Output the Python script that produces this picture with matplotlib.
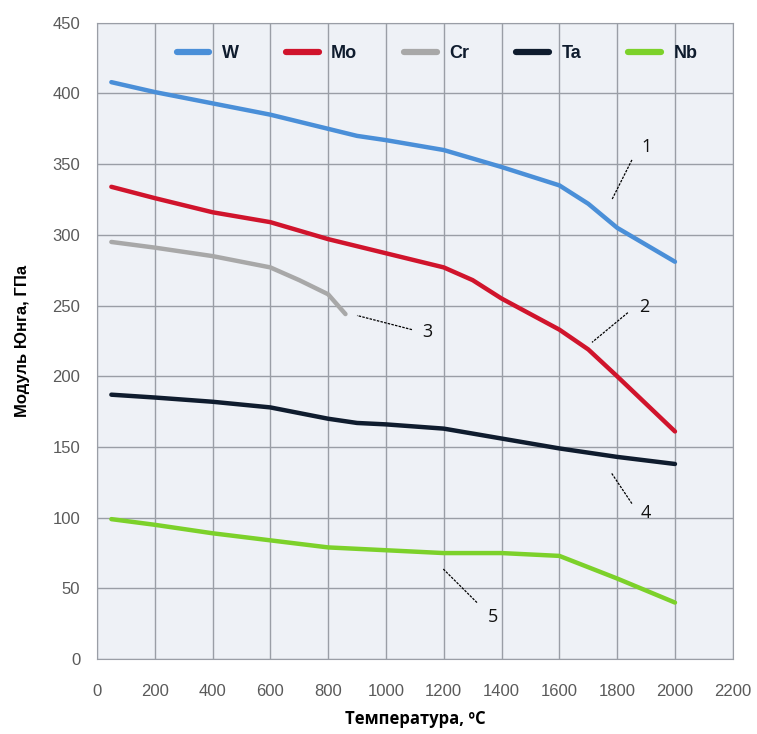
import numpy as np
import matplotlib
matplotlib.use("Agg")
import matplotlib.pyplot as plt

# temperatures, deg C
t_W = [50, 200, 400, 600, 800, 900, 1000, 1200, 1400, 1600, 1700, 1800, 2000]
E_W = [408, 401, 393, 385, 375, 370, 367, 360, 348, 335, 322, 305, 281]

t_Mo = [50, 200, 400, 600, 800, 1000, 1200, 1300, 1400, 1600, 1700, 1800, 2000]
E_Mo = [334, 326, 316, 309, 297, 287, 277, 268, 255, 233, 219, 200, 161]

t_Cr = [50, 200, 400, 600, 700, 800, 860]
E_Cr = [295, 291, 285, 277, 268, 258, 244]

t_Ta = [50, 200, 400, 600, 800, 900, 1000, 1200, 1400, 1600, 1800, 2000]
E_Ta = [187, 185, 182, 178, 170, 167, 166, 163, 156, 149, 143, 138]

t_Nb = [50, 200, 400, 600, 800, 1000, 1200, 1400, 1600, 1800, 2000]
E_Nb = [99, 95, 89, 84, 79, 77, 75, 75, 73, 57, 40]

names = ["W", "Mo", "Cr", "Ta", "Nb"]
colors = ["#4a8fd8", "#d0142c", "#a8a8a8", "#0f1c2e", "#7cd12a"]

# callout numbers: label, text position, leader start, leader end
labels = ["1", "2", "3", "4", "5"]
lab_xy = [(1900, 362), (1895, 249), (1145, 231), (1900, 103), (1370, 30)]
lead_a = [(1851, 353), (1837, 245), (1090, 233), (1851, 110), (1315, 40)]
lead_b = [(1782, 325), (1713, 224), (900, 243), (1779, 132), (1197, 64)]

fig = plt.figure(figsize=(7.57, 7.34), dpi=100)
ax = fig.add_axes([0.128, 0.102, 0.84, 0.867])
ax.set_facecolor("#eef1f6")

series = [(t_W, E_W), (t_Mo, E_Mo), (t_Cr, E_Cr), (t_Ta, E_Ta), (t_Nb, E_Nb)]
for (t, e), n, c in zip(series, names, colors):
    ax.plot(t, e, color=c, lw=3.2, label=n, solid_capstyle="round", solid_joinstyle="round")

for lb, xy, a, b in zip(labels, lab_xy, lead_a, lead_b):
    ax.plot([a[0], b[0]], [a[1], b[1]], color="black", lw=0.9, ls=(0, (2, 1)))
    ax.text(xy[0], xy[1], lb, fontsize=13, ha="center", va="center",
            family="Open Sans", color="#111111")

ax.set_xlim(0, 2200)
ax.set_ylim(0, 450)
ax.set_xticks(np.arange(0, 2201, 200))
ax.set_yticks(np.arange(0, 451, 50))
ax.grid(True, color="#9a9ea6", lw=1.0)
ax.set_axisbelow(True)
for s in ax.spines.values():
    s.set_color("#9a9ea6")
ax.tick_params(length=0, labelsize=12, colors="#5a5a5a")
ax.tick_params(axis="x", pad=18)
ax.tick_params(axis="y", pad=12)
for lbl in ax.get_xticklabels() + ax.get_yticklabels():
    lbl.set_family("Liberation Sans")

ax.set_xlabel("Температура, ºС", fontsize=12, fontweight="bold", family="Open Sans", labelpad=8)
ax.set_ylabel("Модуль Юнга, ГПа", fontsize=12, fontweight="bold", family="Liberation Sans", labelpad=16)

leg = ax.legend(loc="upper center", bbox_to_anchor=(0.535, 0.99), ncol=5, frameon=False,
                handlelength=1.8, columnspacing=2.6, handletextpad=0.7,
                prop={"family": "Liberation Sans", "weight": "bold", "size": 13})
for tx in leg.get_texts():
    tx.set_color("#0f1c2e")
for h in leg.legend_handles:
    h.set_linewidth(4.5)

fig.savefig("out.png", dpi=100)
